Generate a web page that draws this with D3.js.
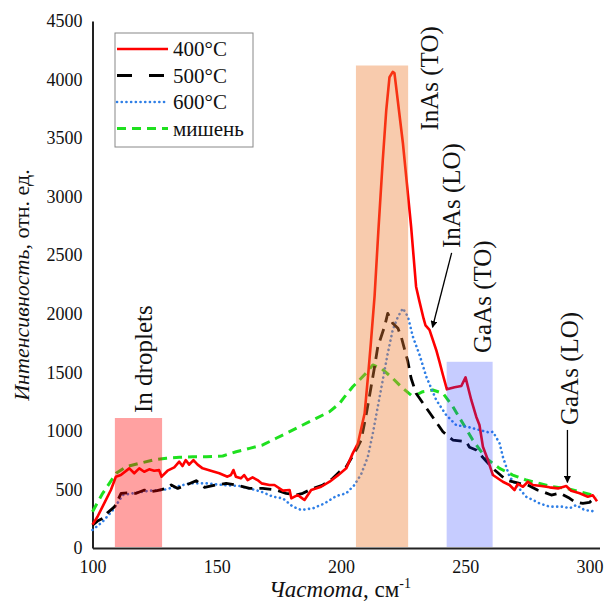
<!DOCTYPE html>
<html>
<head>
<meta charset="utf-8">
<script src="https://cdn.jsdelivr.net/npm/d3@7"></script>
<style>
  body { margin: 0; background: #fff; }
  text { font-family: "Liberation Serif", "Times New Roman", serif; fill: #111; }
</style>
</head>
<body>
<script>
// spectra: [frequency, intensity]
var red400 = [[100,200],[102,267],[104.7,381],[107.4,495],[109.4,609],[111.4,623],[114.8,680],[116.8,638],[118.8,680],[120.8,651],[122.8,672],[124.8,660],[126.8,665],[127.8,609],[130.2,660],[132.9,689],[134.9,737],[136.2,700],[137.5,751],[138.9,712],[140.6,751],[142.3,712],[144.3,680],[147.6,660],[151,638],[154.3,609],[155.7,623],[156.7,666],[157.7,609],[159.7,595],[161,623],[162.4,580],[164.4,603],[166.4,580],[168,552],[171.2,538],[173.2,538],[176.6,490],[179.3,495],[180,424],[181.3,438],[182.6,452],[184,430],[185.3,410],[188,495],[192,523],[195.4,566],[198.7,620],[202.1,680],[204.7,808],[206.8,894],[209.5,1150],[211,1500],[212,1750],[213.5,2150],[215,2700],[216.8,3313],[218.2,3740],[219.5,4020],[220.8,4065],[221.5,4055],[224.9,3456],[228.2,2744],[230.2,2231],[231.5,2110],[233.2,1960],[234,1900],[235.6,1862],[238.3,1691],[239.6,1591],[241,1477],[242.6,1355],[245.7,1372],[248.4,1383],[250.1,1457],[252.4,1264],[254.4,1121],[255.7,1050],[257.1,865],[259.1,751],[261.1,623],[265.1,566],[267.8,538],[269.8,495],[271.1,547],[273.2,523],[275.2,566],[277.2,538],[280.6,530],[283.9,518],[287.3,509],[290.6,529],[292.6,489],[296,467],[299.3,438],[301.3,450],[303,400]];

var black500 = [[100,196],[102,230],[104.1,253],[106,300],[108.9,353],[111.5,467],[114,470],[117.6,467],[120.9,495],[123.6,481],[126,490],[129.7,509],[131.7,538],[134.3,509],[137.7,538],[141.7,575],[145.1,518],[149.8,538],[153.8,552],[157.8,538],[163.2,509],[168.5,509],[173.9,495],[177.9,467],[181.9,452],[184.6,467],[188.7,509],[192.7,538],[196.7,595],[199.4,652],[202.1,694],[204.5,780],[206.8,865],[208.1,922],[210.1,1136],[212.1,1377],[213.5,1548],[214.8,1719],[217.5,1890],[218.8,2004],[220.8,1919],[222.9,1876],[224.2,1805],[226.9,1591],[228.2,1449],[230.2,1321],[234.9,1178],[236.3,1136],[241,993],[245,922],[250.4,908],[251.7,860],[254.4,837],[259.8,709],[261.8,666],[266.5,580],[271.8,552],[275,540],[279,495],[281.2,481],[284.6,452],[288,470],[292,424],[294,395],[297.3,381],[300,390],[302.7,438]];

var blue600 = [[100,154],[104.1,225],[108.2,324],[112.2,452],[117.6,472],[122.9,489],[128.3,495],[133.7,523],[139,552],[145.8,552],[152.4,538],[159.2,529],[164.5,501],[168,480],[172.6,438],[176.6,424],[180.6,353],[184,324],[188.7,339],[193.4,381],[198.1,444],[202.1,467],[205.4,538],[208.1,630],[210.8,780],[212.8,979],[214.8,1207],[216.8,1434],[218.8,1662],[220.8,1862],[222.9,1975],[224.9,2047],[226.9,1975],[228.9,1805],[231.6,1648],[234.3,1463],[238.3,1264],[242.3,1136],[246.3,1050],[251.7,1030],[255.7,1008],[259.8,985],[261.1,993],[263.8,894],[265.1,780],[267.8,609],[271.1,523],[274.5,438],[279.9,381],[283.9,353],[289.3,353],[292,339],[294.6,367],[298,324],[302.7,310]];

var greenTarget = [[100,310],[104.1,467],[109.5,638],[113.5,694],[118.9,723],[124.3,751],[129.7,766],[135,774],[140.4,780],[145.8,780],[152.4,786],[157.8,822],[163.2,851],[168.5,880],[173.9,937],[179.3,993],[184.6,1050],[190,1107],[195.4,1164],[199.4,1235],[201.4,1290],[204.7,1377],[209.5,1480],[212.8,1563],[216.2,1534],[220.8,1449],[224.9,1363],[228.9,1292],[232.9,1335],[236.9,1349],[241,1321],[245,1207],[249,1065],[253,922],[258.4,766],[263.8,680],[269.1,623],[274.5,580],[279.9,552],[285.2,523],[290.6,509],[296,481],[301.3,452],[303,440]];

var seriesNames = ["400°C", "500°C", "600°C", "мишень"];
var xTicks = [100, 150, 200, 250, 300];
var yTicks = [0, 500, 1000, 1500, 2000, 2500, 3000, 3500, 4000, 4500];

// highlighted bands: [from, to, top]
var bandFrom = [109, 206, 242.5];
var bandTo = [128, 227, 261];
var bandTop = [1110, 4120, 1590];
var bandColor = ["#ff0000", "#ed7d31", "#1a33ff"];
var bandAlpha = [0.37, 0.4, 0.25];

// peak labels (vertical), anchored at their baseline / lower end
var labels = ["In droplets", "InAs (TO)", "InAs (LO)", "GaAs (TO)", "GaAs (LO)"];
var labelAtX = [123.9, 239.0, 247.9, 260.4, 295.4];
var labelAtY = [1153, 3564, 2562, 1665, 1050];

var width = 613, height = 603;

var svg = d3.select("body").append("svg")
  .attr("width", width)
  .attr("height", height);

var x = d3.scaleLinear().domain([100, 304]).range([92.5, 599.5]);
var y = d3.scaleLinear().domain([0, 4500]).range([548, 21]);

// axes
var yAxis = svg.append("g")
  .attr("transform", "translate(" + x(100) + ",0)")
  .call(d3.axisLeft(y).tickValues(yTicks).tickSize(0).tickPadding(10).tickFormat(d3.format("d")));
var xAxis = svg.append("g")
  .attr("transform", "translate(0," + y(0) + ")")
  .call(d3.axisBottom(x).tickValues(xTicks).tickSize(0).tickPadding(12).tickFormat(d3.format("d")));

[xAxis, yAxis].forEach(function(a) {
  a.attr("font-family", null);
  a.select(".domain").attr("stroke", "#222").attr("stroke-width", 2);
  a.selectAll("text")
   .style("font-family", "'Liberation Serif', serif")
   .style("font-size", "18px")
   .attr("fill", "#222");
});

// lines
var line = d3.line().x(function(d) { return x(d[0]); }).y(function(d) { return y(d[1]); });

var styles = [
  { data: red400, color: "#ff0000", w: 2.6, dash: null, cap: "butt" },
  { data: black500, color: "#000000", w: 2.8, dash: "12,7", cap: "butt" },
  { data: blue600, color: "#2f7fe6", w: 2.6, dash: "0.1,4.6", cap: "round" },
  { data: greenTarget, color: "#1fe01f", w: 3, dash: "9,6", cap: "butt" }
];

// draw green first so the others sit on top
[3, 2, 1, 0].forEach(function(i) {
  var s = styles[i];
  svg.append("path")
    .datum(s.data)
    .attr("d", line)
    .attr("fill", "none")
    .attr("stroke", s.color)
    .attr("stroke-width", s.w)
    .attr("stroke-linecap", s.cap)
    .attr("stroke-linejoin", "round")
    .attr("stroke-dasharray", s.dash);
});

// translucent bands over the curves
bandFrom.forEach(function(f, i) {
  svg.append("rect")
    .attr("x", x(f))
    .attr("y", y(bandTop[i]))
    .attr("width", x(bandTo[i]) - x(f))
    .attr("height", y(0) - y(bandTop[i]) - 1)
    .attr("fill", bandColor[i])
    .attr("fill-opacity", bandAlpha[i]);
});

labels.forEach(function(t, i) {
  svg.append("text")
    .attr("transform", "translate(" + x(labelAtX[i]) + "," + y(labelAtY[i]) + ") rotate(-90)")
    .style("font-size", "25px")
    .text(t);
});

// arrows
var defs = svg.append("defs");
defs.append("marker")
  .attr("id", "arr")
  .attr("viewBox", "0 0 10 10")
  .attr("refX", 9).attr("refY", 5)
  .attr("markerWidth", 7).attr("markerHeight", 7)
  .attr("markerUnits", "userSpaceOnUse")
  .attr("orient", "auto")
  .append("path").attr("d", "M0,0 L10,5 L0,10 z").attr("fill", "#000");

var arrowFrom = [[244.5, 2520], [291.1, 1008]];
var arrowTo = [[236.8, 1885], [291.1, 560]];
arrowFrom.forEach(function(a, i) {
  svg.append("line")
    .attr("x1", x(a[0])).attr("y1", y(a[1]))
    .attr("x2", x(arrowTo[i][0])).attr("y2", y(arrowTo[i][1]))
    .attr("stroke", "#000").attr("stroke-width", 1.3)
    .attr("marker-end", "url(#arr)");
});

// legend
var legend = svg.append("g").attr("transform", "translate(115,33)");
legend.append("rect")
  .attr("width", 138).attr("height", 114)
  .attr("fill", "#fff").attr("stroke", "#888").attr("stroke-width", 1);
seriesNames.forEach(function(n, i) {
  var s = styles[i];
  var yy = 16 + i * 26.5;
  legend.append("line")
    .attr("x1", 2).attr("x2", 53).attr("y1", yy).attr("y2", yy)
    .attr("stroke", s.color).attr("stroke-width", s.w)
    .attr("stroke-linecap", s.cap)
    .attr("stroke-dasharray", i == 1 ? "15,17" : s.dash);
  legend.append("text")
    .attr("x", 58).attr("y", yy + 7)
    .style("font-size", "21px")
    .text(n);
});

// axis titles
var xt = svg.append("text")
  .attr("x", 340).attr("y", 597)
  .attr("text-anchor", "middle")
  .style("font-size", "23px");
xt.append("tspan").style("font-style", "italic").text("Частота");
xt.append("tspan").text(", см");
xt.append("tspan").attr("dy", -9).style("font-size", "14px").text("-1");

var yt = svg.append("text")
  .attr("transform", "translate(29,285) rotate(-90)")
  .attr("text-anchor", "middle")
  .style("font-size", "22px");
yt.append("tspan").style("font-style", "italic").text("Интенсивность");
yt.append("tspan").text(", отн. ед.");
</script>
</body>
</html>
